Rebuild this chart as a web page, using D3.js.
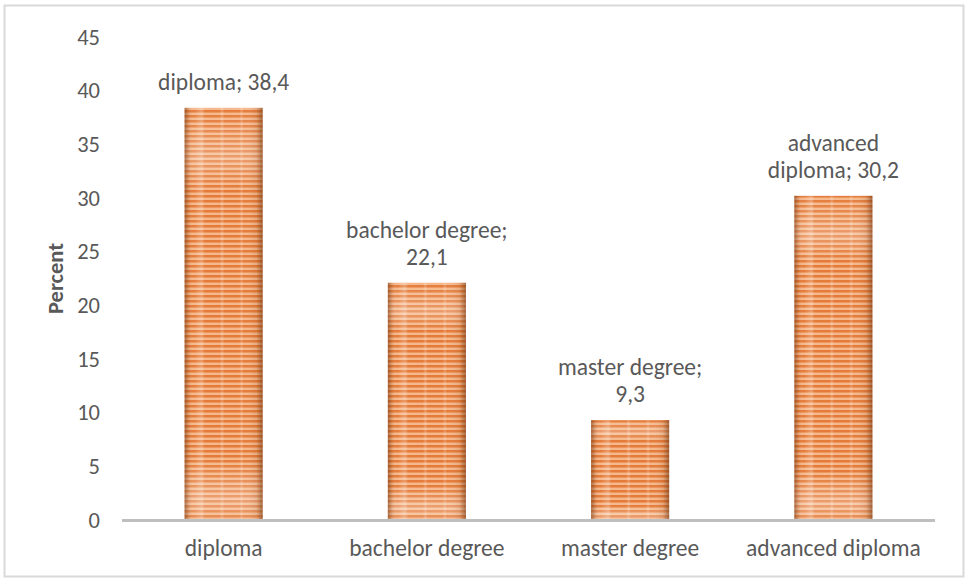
<!DOCTYPE html>
<html>
<head>
<meta charset="utf-8">
<script src="https://cdn.jsdelivr.net/npm/d3@7"></script>
<style>
  body { margin: 0; background: #fff; }
  text { font-family: Carlito, Lato, "Open Sans", sans-serif; fill: #595959; }
</style>
</head>
<body>
<div id="chart"></div>
<script>
// Data
const categories = ["diploma", "bachelor degree", "master degree", "advanced diploma"];
const values = [38.4, 22.1, 9.3, 30.2];
const labelLines = [
    ["diploma; 38,4"],
    ["bachelor degree;", "22,1"],
    ["master degree;", "9,3"],
    ["advanced", "diploma; 30,2"]
];
const yTicks = [0, 5, 10, 15, 20, 25, 30, 35, 40, 45];

const W = 966, H = 581;
const plot = { left: 122, right: 935, top: 37, bottom: 520 };
const fontSize = "22.5px";
const labelSize = "23.5px";

const svg = d3.select("#chart").append("svg")
    .attr("width", W)
    .attr("height", H);

// outer border
svg.append("rect")
    .attr("x", 4.5).attr("y", 5.5)
    .attr("width", 959).attr("height", 571)
    .attr("fill", "none")
    .attr("stroke", "#d9d9d9")
    .attr("stroke-width", 2);

// bar fill: striped texture + shading
const defs = svg.append("defs");
const pat = defs.append("pattern")
    .attr("id", "stripes")
    .attr("patternUnits", "userSpaceOnUse")
    .attr("width", 10).attr("height", 5);
pat.append("rect").attr("width", 10).attr("height", 5).attr("fill", "#f5b88c");
pat.append("rect").attr("y", 0).attr("width", 10).attr("height", 2).attr("fill", "#e47b3a");
pat.append("rect").attr("y", 2).attr("width", 10).attr("height", 1).attr("fill", "#ee965c");

const shade = defs.append("linearGradient")
    .attr("id", "shade")
    .attr("x1", 0).attr("x2", 1).attr("y1", 0).attr("y2", 0);
[
    [0, "#6e3410", 0.55], [0.06, "#7a3a10", 0.12], [0.12, "#ffffff", 0.0],
    [0.22, "#ffffff", 0.25], [0.26, "#ffffff", 0.0],
    [0.45, "#ffffff", 0.0], [0.48, "#ffffff", 0.22], [0.51, "#ffffff", 0.0],
    [0.7, "#ffffff", 0.0], [0.73, "#ffffff", 0.2], [0.76, "#ffffff", 0.0],
    [0.92, "#7a3a10", 0.12], [1, "#6e3410", 0.6]
].forEach(s => shade.append("stop")
    .attr("offset", s[0]).attr("stop-color", s[1]).attr("stop-opacity", s[2]));

const vshade = defs.append("linearGradient")
    .attr("id", "vshade")
    .attr("x1", 0).attr("x2", 0).attr("y1", 0).attr("y2", 1);
[
    [0, "#ffffff", 0.0], [0.12, "#ffffff", 0.25], [0.2, "#ffffff", 0.0],
    [0.85, "#ffffff", 0.0], [0.95, "#ffffff", 0.28], [1, "#ffffff", 0.1]
].forEach(s => vshade.append("stop")
    .attr("offset", s[0]).attr("stop-color", s[1]).attr("stop-opacity", s[2]));

// Scales
const x = d3.scaleBand()
    .domain(categories)
    .range([plot.left, plot.right])
    .paddingInner(0.616)
    .paddingOuter(0.308);

const y = d3.scaleLinear()
    .domain([0, 45])
    .range([plot.bottom, plot.top]);

// Y axis (labels only)
const yAxis = svg.append("g")
    .attr("transform", `translate(${plot.left},0)`)
    .call(d3.axisLeft(y).tickValues(yTicks).tickSize(0).tickPadding(22));
yAxis.select(".domain").remove();
yAxis.selectAll("text")
    .style("font-size", fontSize)
    .attr("fill", "#595959");

// Bars
const bars = svg.append("g");
categories.forEach((c, i) => {
    const bx = x(c), bw = x.bandwidth(), by = y(values[i]), bh = y(0) - y(values[i]);
    bars.append("rect").attr("x", bx).attr("y", by).attr("width", bw).attr("height", bh)
        .attr("fill", "url(#stripes)");
    bars.append("rect").attr("x", bx).attr("y", by).attr("width", bw).attr("height", bh)
        .attr("fill", "url(#vshade)");
    bars.append("rect").attr("x", bx).attr("y", by).attr("width", bw).attr("height", bh)
        .attr("fill", "url(#shade)");
});

// X axis line
svg.append("line")
    .attr("x1", plot.left).attr("x2", plot.right)
    .attr("y1", y(0) + 0.5).attr("y2", y(0) + 0.5)
    .attr("stroke", "#bfbfbf")
    .attr("stroke-width", 3);

// Category labels
svg.append("g").selectAll("text")
    .data(categories)
    .enter()
    .append("text")
    .attr("x", d => x(d) + x.bandwidth() / 2)
    .attr("y", 556)
    .attr("text-anchor", "middle")
    .style("font-size", labelSize)
    .text(d => d);

// Data labels
const lineH = 27;
labelLines.forEach((lines, i) => {
    const cx = x(categories[i]) + x.bandwidth() / 2;
    const base = y(values[i]) - 18;
    const t = svg.append("text")
        .attr("text-anchor", "middle")
        .style("font-size", labelSize);
    lines.forEach((ln, j) => {
        t.append("tspan")
            .attr("x", cx)
            .attr("y", base - (lines.length - 1 - j) * lineH)
            .text(ln);
    });
});

// Y title
svg.append("text")
    .attr("transform", `translate(63,${(plot.top + plot.bottom) / 2}) rotate(-90)`)
    .attr("text-anchor", "middle")
    .style("font-size", fontSize)
    .style("font-weight", "bold")
    .text("Percent");
</script>
</body>
</html>
